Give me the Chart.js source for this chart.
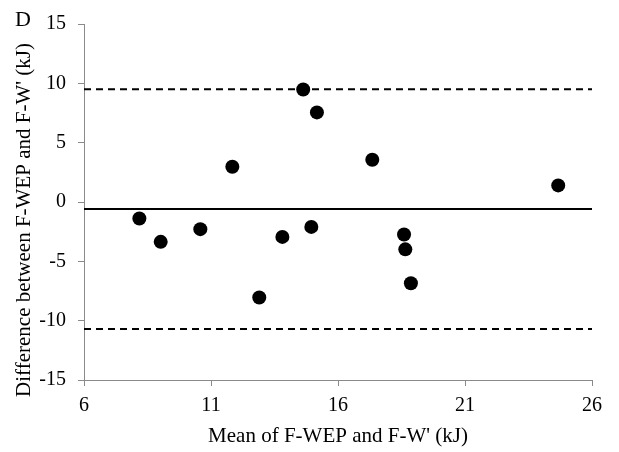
<!DOCTYPE html>
<html>
<head>
<meta charset="utf-8">
<script src="https://cdn.jsdelivr.net/npm/chart.js@4/dist/chart.umd.min.js"></script>
<style>
  html, body { margin: 0; padding: 0; background: #fff; }
  #wrap { width: 619px; height: 452px; }
</style>
</head>
<body>
<div id="wrap"><canvas id="c" width="619" height="452"></canvas></div>
<script>
// Mean of the two measures (kJ) for each participant
const meanValues = [8.18, 9.02, 10.58, 11.84, 12.90, 13.81, 14.63, 14.95, 15.17, 17.35, 18.60, 18.65, 18.87, 24.67];
// Difference between F-WEP and F-W' (kJ)
const diffValues = [-1.39, -3.36, -2.29, 2.97, -8.05, -2.94, 9.48, -2.10, 7.55, 3.56, -2.74, -3.99, -6.85, 1.40];
// Bias and limits of agreement
const bias = -0.59;
const upperLimit = 9.51;
const lowerLimit = -10.7;
// Axis ranges and ticks
const xTicks = [6, 11, 16, 21, 26];
const yTicks = [-15, -10, -5, 0, 5, 10, 15];
const panelLabel = 'D';
const xTitle = "Mean of F-WEP and F-W' (kJ)";
const yTitle = "Difference between F-WEP and F-W' (kJ)";

const FONT = "'Liberation Serif', 'Times New Roman', serif";
const axisColor = '#8a8a8a';

const points = meanValues.map((x, i) => ({ x: x, y: diffValues[i] }));
const xMin = xTicks[0], xMax = xTicks[xTicks.length - 1];
const hLine = v => [{ x: xMin, y: v }, { x: xMax, y: v }];

// Panel letter and the vertical axis title (set a little below the plot centre)
const annotationsPlugin = {
  id: 'panelText',
  afterDraw(chart) {
    const ctx = chart.ctx;
    const area = chart.chartArea;
    ctx.save();
    ctx.fillStyle = '#000';
    ctx.font = '22px ' + FONT;
    ctx.textAlign = 'left';
    ctx.textBaseline = 'alphabetic';
    ctx.fillText(panelLabel, 15, 26);

    ctx.font = '21px ' + FONT;
    ctx.translate(24, (area.top + area.bottom) / 2 + 18);
    ctx.rotate(-Math.PI / 2);
    ctx.textAlign = 'center';
    ctx.textBaseline = 'middle';
    ctx.fillText(yTitle, 0, 0);
    ctx.restore();
  }
};

new Chart(document.getElementById('c'), {
  type: 'scatter',
  data: {
    datasets: [
      {
        label: 'Upper limit',
        type: 'line',
        data: hLine(upperLimit),
        borderColor: '#000',
        borderWidth: 2,
        borderDash: [7, 5],
        pointRadius: 0,
        fill: false,
        order: 2
      },
      {
        label: 'Bias',
        type: 'line',
        data: hLine(bias),
        borderColor: '#000',
        borderWidth: 2,
        pointRadius: 0,
        fill: false,
        order: 2
      },
      {
        label: 'Lower limit',
        type: 'line',
        data: hLine(lowerLimit),
        borderColor: '#000',
        borderWidth: 2,
        borderDash: [7, 5],
        pointRadius: 0,
        fill: false,
        order: 2
      },
      {
        label: 'Participants',
        data: points,
        backgroundColor: '#000',
        borderColor: '#000',
        borderWidth: 0,
        pointRadius: 7,
        pointHoverRadius: 7,
        order: 1
      }
    ]
  },
  options: {
    responsive: false,
    animation: false,
    events: [],
    layout: { padding: { left: 0, right: 27, top: 21, bottom: 0 } },
    plugins: {
      legend: { display: false },
      tooltip: { enabled: false }
    },
    scales: {
      x: {
        type: 'linear',
        min: xMin,
        max: xMax,
        afterBuildTicks: s => { s.ticks = xTicks.map(v => ({ value: v })); },
        afterFit: s => { s.height = 72; },
        border: { display: true, color: axisColor, width: 1 },
        grid: { display: true, drawOnChartArea: false, drawTicks: true, tickLength: 6, color: axisColor },
        ticks: { color: '#000', font: { family: FONT, size: 20 }, padding: 8, maxRotation: 0 },
        title: { display: true, text: xTitle, color: '#000', font: { family: FONT, size: 21 }, padding: { top: 0, bottom: 3 } }
      },
      y: {
        type: 'linear',
        min: yTicks[0],
        max: yTicks[yTicks.length - 1],
        afterBuildTicks: s => { s.ticks = yTicks.map(v => ({ value: v })); },
        afterFit: s => { s.width = 84; },
        border: { display: true, color: axisColor, width: 1 },
        grid: { display: true, drawOnChartArea: false, drawTicks: true, tickLength: 6, color: axisColor },
        ticks: { color: '#000', font: { family: FONT, size: 20 }, padding: 12 },
        title: { display: false }
      }
    }
  },
  plugins: [annotationsPlugin]
});
</script>
</body>
</html>
